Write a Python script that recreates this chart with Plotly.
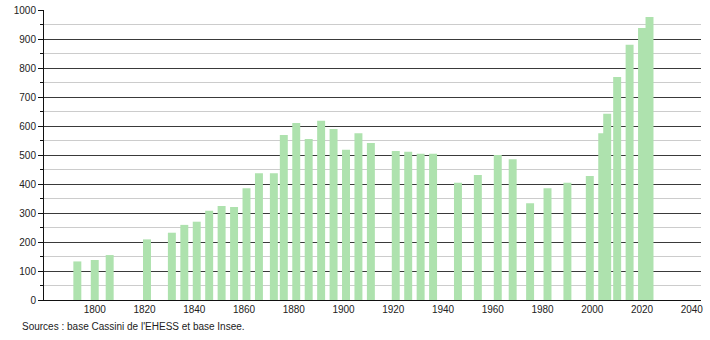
import plotly.graph_objects as go

years = [1793, 1800, 1806, 1821, 1831, 1836, 1841, 1846, 1851, 1856, 1861, 1866,
         1872, 1876, 1881, 1886, 1891, 1896, 1901, 1906, 1911, 1921, 1926, 1931,
         1936, 1946, 1954, 1962, 1968, 1975, 1982, 1990, 1999, 2004, 2006, 2010,
         2015, 2020, 2023]
population = [133, 138, 155, 209, 232, 259, 270, 308, 324, 321, 385, 437,
              437, 569, 610, 555, 618, 590, 518, 575, 541, 514, 511, 504,
              504, 404, 431, 500, 485, 334, 385, 404, 428, 575, 642, 769,
              880, 938, 976]
x_ticks = [1800, 1820, 1840, 1860, 1880, 1900, 1920, 1940, 1960, 1980, 2000, 2020, 2040]
source_text = "Sources : base Cassini de l'EHESS et base Insee."

FONT = "Liberation Sans, Arial, sans-serif"

fig = go.Figure()
fig.add_trace(go.Bar(
    x=years, y=population, width=3.2,
    marker=dict(color="rgb(174,226,174)", line=dict(width=0)),
    hoverinfo="x+y",
))

fig.update_layout(
    width=710, height=340, autosize=False,
    margin=dict(l=44, r=9, t=10, b=40, autoexpand=False),
    paper_bgcolor="white", plot_bgcolor="white",
    showlegend=False,
    barmode="overlay",
    font=dict(family=FONT, size=10, color="#222"),
    xaxis=dict(
        range=[1779.6, 2043.7], automargin=False,
        tickmode="array", tickvals=x_ticks, ticktext=[str(t) for t in x_ticks],
        showgrid=False, zeroline=False,
        showline=True, linecolor="#111", linewidth=1,
        ticks="", ticklen=0,
        tickfont=dict(family=FONT, size=10, color="#222"),
    ),
    yaxis=dict(
        range=[0, 1000], automargin=False,
        tickmode="linear", tick0=0, dtick=100,
        showgrid=True, gridcolor="#3a3a3a", gridwidth=1,
        zeroline=False,
        showline=True, linecolor="#111", linewidth=1,
        ticks="outside", ticklen=5, tickcolor="#111", tickwidth=1,
        tickfont=dict(family=FONT, size=10, color="#222"),
        minor=dict(dtick=50, tick0=0, showgrid=True, gridcolor="#cccccc", gridwidth=1,
                   ticks="outside", ticklen=3, tickcolor="#111"),
    ),
    annotations=[dict(
        text=source_text, xref="paper", yref="paper",
        x=-0.0365, y=-0.093, xanchor="left", yanchor="middle",
        showarrow=False, font=dict(family=FONT, size=10, color="#222"),
    )],
)

fig.write_html("out.html")
